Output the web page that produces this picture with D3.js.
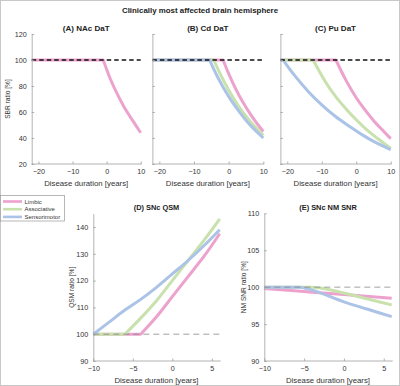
<!DOCTYPE html>
<html>
<head>
<meta charset="utf-8">
<script src="https://cdn.jsdelivr.net/npm/d3@7"></script>
<style>
body { margin: 0; background: #fff; }
svg { display: block; font-family: "Liberation Sans", Arial, sans-serif; }
</style>
</head>
<body>
<svg id="fig" width="400" height="386"></svg>
<script>
// regions and colours
const regions = ["Limbic", "Associative", "Sensorimotor"];
const regionColors = ["#eca2cd", "#c8e1ad", "#abc3e6"];

// DaT SBR ratio [%] vs disease duration [years]
const nacLimbic = [[-22,100],[-1,100],[1,86],[3,74.5],[5,64.5],[7,56],[9,48],[10,44]];
const cdLimbic = [[-22,100],[-1.6,100],[0,89.5],[2,78],[4,68],[7,55.5],[10,45]];
const cdAssociative = [[-22,100],[-4.3,100],[-2,87],[0,77],[3,64],[6,53.5],[10,42]];
const cdSensorimotor = [[-22,100],[-5.5,100],[-3,86],[0,72],[3,60.5],[6,50.5],[10,40]];
const puLimbic = [[-22,100],[-5.9,100],[-3,84.5],[0,71],[2,63.5],[5,53.5],[8,45],[10,39.5]];
const puAssociative = [[-22,100],[-12.5,100],[-9,83.5],[-6,72],[-3,62.5],[0,54],[3,46.5],[6,40],[10,32]];
const puSensorimotor = [[-22,100],[-21.2,100],[-18,88.5],[-14,76],[-10,65.5],[-6,56.5],[-2,49],[2,42],[6,36],[10,31]];

// SNc QSM ratio [%]
const qsmLimbic = [[-10,100],[-4,100],[-2,106.5],[0,114],[2,121.5],[4,129],[6,137.5]];
const qsmAssociative = [[-10,100],[-6,100],[-4,106],[-2,112.5],[0,120],[2,127.5],[4,135],[6,143]];
const qsmSensorimotor = [[-10,100],[-8,104.5],[-6,109],[-4,113],[-2,117.5],[0,122.5],[2,127.5],[4,133],[6,139]];

// SNc NM SNR ratio [%]
const nmLimbic = [[-10,99.8],[-5,99.4],[0,99.0],[6,98.5]];
const nmAssociative = [[-10,100],[-4,100],[-3,99.9],[0,99.2],[3,98.4],[6,97.6]];
const nmSensorimotor = [[-10,100],[-5.5,100],[-4,99.6],[0,98.0],[3,97.0],[6,96.0]];

// ticks
const datXTicks = [-20, -10, 0, 10];
const datYTicks = [20, 40, 60, 80, 100, 120];
const snXTicks = [-10, -5, 0, 5];
const qsmYTicks = [90, 100, 110, 120, 130, 140];
const nmYTicks = [90, 95, 100, 105, 110];

const svg = d3.select("#fig");

// outer frame
svg.append("rect").attr("x", 0.5).attr("y", 0.5).attr("width", 399).attr("height", 385)
    .attr("fill", "none").attr("stroke", "#c8c8c8");

svg.append("text").attr("x", 200).attr("y", 13).attr("text-anchor", "middle")
    .style("font-size", "7.9px").style("font-weight", "bold").attr("fill", "#222")
    .text("Clinically most affected brain hemisphere");

function drawPanel(p) {
    const x = d3.scaleLinear().domain(p.xDomain).range(p.xRange);
    const y = d3.scaleLinear().domain(p.yDomain).range(p.yRange);
    const g = svg.append("g");

    // baseline at 100 %
    const dash = g.append("line")
        .attr("x1", x(p.xDomain[0])).attr("x2", x(p.xDomain[1]))
        .attr("y1", y(100)).attr("y2", y(100));

    const flatLine = d3.line().x(d => x(d[0])).y(d => y(d[1]));
    const curveLine = d3.line().x(d => x(d[0])).y(d => y(d[1])).curve(d3.curveMonotoneX);
    p.series.forEach((s, i) => {
        if (!s) return;
        // flat part up to the knee, then the curved part (keeps the knee sharp)
        let k = 0;
        while (k + 1 < s.length && s[k + 1][1] === s[0][1]) k++;
        const path = (k > 0 ? flatLine(s.slice(0, k + 1)) : "") + curveLine(s.slice(k)).replace(/^M/, k > 0 ? "L" : "M");
        g.append("path").attr("d", path).attr("fill", "none")
            .attr("stroke", regionColors[i]).attr("stroke-width", 3).attr("stroke-linejoin", "round");
    });

    if (p.bigDash) {
        dash.attr("stroke", "#111").attr("stroke-width", 1.4).attr("stroke-dasharray", "4.5,3");
    } else {
        dash.attr("stroke", "#888").attr("stroke-width", 0.8).attr("stroke-dasharray", "6,4");
    }
    dash.raise();

    const xAxis = g.append("g").attr("transform", `translate(0,${p.yRange[0]})`)
        .call(d3.axisBottom(x).tickValues(p.xTicks).tickSizeInner(-2.5).tickSizeOuter(0).tickPadding(4.5).tickFormat(d3.format("d")));
    const yAxis = g.append("g").attr("transform", `translate(${p.xRange[0]},0)`)
        .call(d3.axisLeft(y).tickValues(p.yTicks).tickSizeInner(-2.5).tickSizeOuter(0).tickPadding(5).tickFormat(p.yLabels ? d3.format("d") : () => ""));
    [xAxis, yAxis].forEach(a => {
        a.select(".domain").attr("stroke", "#a0a0a0").attr("stroke-width", 0.8);
        a.selectAll(".tick line").attr("stroke", "#a0a0a0").attr("stroke-width", 0.8);
        a.selectAll(".tick text").attr("fill", "#333").style("font-size", "7.2px").style("font-family", "Liberation Sans, Arial, sans-serif");
    });
    xAxis.select(".domain").attr("d", `M${p.xRange[0]},0H${p.xRange[1] + 1}`);

    g.append("text").attr("x", (p.xRange[0] + p.xRange[1]) / 2).attr("y", p.titleY)
        .attr("text-anchor", "middle").style("font-size", p.titleSize).style("font-weight", "bold")
        .attr("fill", "#222").text(p.title);

    g.append("text").attr("x", (p.xRange[0] + p.xRange[1]) / 2).attr("y", p.yRange[0] + 22)
        .attr("text-anchor", "middle").style("font-size", "7.8px").attr("fill", "#333")
        .text("Disease duration [years]");

    if (p.yTitle) {
        g.append("text")
            .attr("transform", `translate(${p.yTitleX},${(p.yRange[0] + p.yRange[1]) / 2}) rotate(-90)`)
            .attr("text-anchor", "middle").style("font-size", "6.6px").attr("fill", "#333")
            .text(p.yTitle);
    }
}

const topY = [164, 34];
drawPanel({ xDomain: [-22, 10], xRange: [31.7, 140.7], yDomain: [20, 120], yRange: topY,
    xTicks: datXTicks, yTicks: datYTicks, yLabels: true, bigDash: true,
    series: [nacLimbic, null, null], title: "(A) NAc DaT", titleY: 31, titleSize: "8px",
    yTitle: "SBR ratio [%]", yTitleX: 9.5 });
drawPanel({ xDomain: [-22, 10], xRange: [152.4, 263.3], yDomain: [20, 120], yRange: topY,
    xTicks: datXTicks, yTicks: datYTicks, yLabels: false, bigDash: true,
    series: [cdLimbic, cdAssociative, cdSensorimotor], title: "(B) Cd DaT", titleY: 31, titleSize: "8px" });
drawPanel({ xDomain: [-22, 10], xRange: [280.4, 390.7], yDomain: [20, 120], yRange: topY,
    xTicks: datXTicks, yTicks: datYTicks, yLabels: false, bigDash: true,
    series: [puLimbic, puAssociative, puSensorimotor], title: "(C) Pu DaT", titleY: 31, titleSize: "8px" });
drawPanel({ xDomain: [-10, 6], xRange: [93.3, 219.7], yDomain: [90, 145], yRange: [361, 213.6],
    xTicks: snXTicks, yTicks: qsmYTicks, yLabels: true, bigDash: false,
    series: [qsmLimbic, qsmAssociative, qsmSensorimotor], title: "(D) SNc QSM", titleY: 209.5, titleSize: "7.4px",
    yTitle: "QSM ratio [%]", yTitleX: 74 });
drawPanel({ xDomain: [-10, 6], xRange: [264.3, 391.7], yDomain: [90, 110], yRange: [361, 213.3],
    xTicks: snXTicks, yTicks: nmYTicks, yLabels: true, bigDash: false,
    series: [nmLimbic, nmAssociative, nmSensorimotor], title: "(E) SNc NM SNR", titleY: 209.5, titleSize: "7.4px",
    yTitle: "NM SNR ratio [%]", yTitleX: 245.5 });

// legend
const legend = svg.append("g");
legend.append("rect").attr("x", 0.5).attr("y", 195.5).attr("width", 64).attr("height", 25.5)
    .attr("fill", "#fff").attr("stroke", "#999").attr("stroke-width", 0.7);
regions.forEach((r, i) => {
    const ly = 201.5 + i * 7.7;
    legend.append("line").attr("x1", 3).attr("x2", 22).attr("y1", ly).attr("y2", ly)
        .attr("stroke", regionColors[i]).attr("stroke-width", 2.6);
    legend.append("text").attr("x", 24.5).attr("y", ly + 2.1).style("font-size", "6px")
        .attr("fill", "#333").text(r);
});
</script>
</body>
</html>
